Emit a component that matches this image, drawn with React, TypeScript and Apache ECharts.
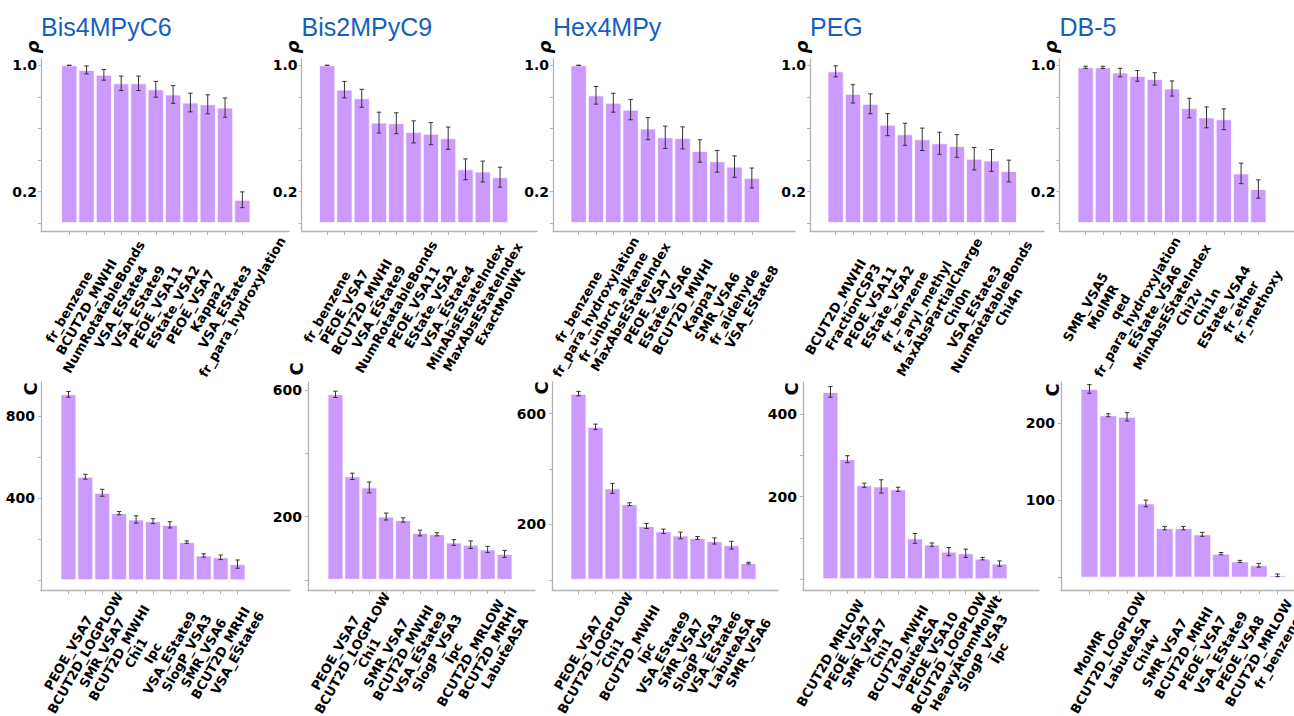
import React, { useEffect, useRef } from "react";
import * as echarts from "echarts";

// ---------- titles ----------
const titles = ["Bis4MPyC6", "Bis2MPyC9", "Hex4MPy", "PEG", "DB-5"];

// ---------- top row (rho) ----------
const rhoCats1 = ["fr_benzene", "BCUT2D_MWHI", "NumRotatableBonds", "VSA_EState4", "VSA_EState9", "PEOE_VSA11", "EState_VSA2", "PEOE_VSA7", "Kappa2", "VSA_EState3", "fr_para_hydroxylation"];
const rhoVals1 = [1.0, 0.971, 0.94, 0.886, 0.886, 0.848, 0.815, 0.764, 0.753, 0.732, 0.148];
const rhoErrs1 = [0, 0.025, 0.034, 0.046, 0.046, 0.05, 0.056, 0.059, 0.06, 0.061, 0.05];

const rhoCats2 = ["fr_benzene", "PEOE_VSA7", "BCUT2D_MWHI", "VSA_EState9", "NumRotatableBonds", "PEOE_VSA11", "EState_VSA2", "VSA_EState4", "MinAbsEStateIndex", "MaxAbsEStateIndex", "ExactMolWt"];
const rhoVals2 = [1.0, 0.846, 0.791, 0.637, 0.633, 0.578, 0.567, 0.538, 0.341, 0.327, 0.291];
const rhoErrs2 = [0, 0.052, 0.057, 0.066, 0.066, 0.07, 0.07, 0.071, 0.066, 0.066, 0.063];

const rhoCats3 = ["fr_benzene", "fr_para_hydroxylation", "fr_unbrch_alkane", "MaxAbsEStateIndex", "PEOE_VSA7", "EState_VSA6", "BCUT2D_MWHI", "Kappa1", "SMR_VSA6", "fr_aldehyde", "VSA_EState8"];
const rhoVals3 = [1.0, 0.81, 0.763, 0.719, 0.599, 0.544, 0.54, 0.457, 0.392, 0.358, 0.286];
const rhoErrs3 = [0, 0.056, 0.06, 0.064, 0.07, 0.071, 0.07, 0.071, 0.069, 0.068, 0.063];

const rhoCats4 = ["BCUT2D_MWHI", "FractionCSP3", "PEOE_VSA11", "EState_VSA2", "fr_benzene", "fr_aryl_methyl", "MaxAbsPartialCharge", "Chi0n", "VSA_EState3", "NumRotatableBonds", "Chi4n"];
const rhoVals4 = [0.962, 0.819, 0.756, 0.624, 0.563, 0.531, 0.506, 0.489, 0.408, 0.397, 0.33];
const rhoErrs4 = [0.035, 0.058, 0.063, 0.07, 0.07, 0.071, 0.07, 0.072, 0.071, 0.069, 0.069];

const rhoCats5 = ["SMR_VSA5", "MolMR", "qed", "fr_para_hydroxylation", "EState_VSA6", "MinAbsEStateIndex", "Chi2v", "Chi1n", "EState_VSA4", "fr_ether", "fr_methoxy"];
const rhoVals5 = [0.987, 0.987, 0.954, 0.933, 0.914, 0.853, 0.729, 0.67, 0.658, 0.315, 0.216];
const rhoErrs5 = [0.007, 0.007, 0.027, 0.034, 0.039, 0.048, 0.062, 0.066, 0.066, 0.065, 0.058];

const rhoTicks = [0, 0.2, 0.4, 0.6, 0.8, 1.0];
const rhoTickLabels = [0.2, 1.0];

// ---------- bottom row (C) ----------
const cCats1 = ["PEOE_VSA7", "BCUT2D_LOGPLOW", "SMR_VSA7", "BCUT2D_MWHI", "Chi1", "Ipc", "VSA_EState9", "SlogP_VSA3", "SMR_VSA6", "BCUT2D_MRHI", "VSA_EState6"];
const cVals1 = [905, 504, 426, 327, 296, 288, 270, 186, 121, 112, 79];
const cErrs1 = [14, 12, 17, 8, 18, 12, 15, 6, 8, 11, 20];

const cCats2 = ["PEOE_VSA7", "BCUT2D_LOGPLOW", "Chi1", "SMR_VSA7", "BCUT2D_MWHI", "VSA_EState9", "SlogP_VSA3", "Ipc", "BCUT2D_MRLOW", "BCUT2D_MRHI", "LabuteASA"];
const cVals2 = [586, 327, 292, 200, 189, 148, 144, 118, 111, 96, 82];
const cErrs2 = [10, 10, 17, 11, 7, 9, 5, 9, 12, 10, 11];

const cCats3 = ["PEOE_VSA7", "BCUT2D_LOGPLOW", "Chi1", "BCUT2D_MWHI", "Ipc", "VSA_EState9", "SMR_VSA7", "SlogP_VSA3", "VSA_EState6", "LabuteASA", "SMR_VSA6"];
const cVals3 = [672, 552, 330, 273, 194, 175, 160, 151, 140, 125, 60];
const cErrs3 = [8, 10, 18, 5, 9, 8, 12, 5, 11, 14, 3];

const cCats4 = ["BCUT2D_MRLOW", "PEOE_VSA7", "SMR_VSA7", "Chi1", "BCUT2D_MWHI", "LabuteASA", "PEOE_VSA10", "BCUT2D_LOGPLOW", "HeavyAtomMolWt", "SlogP_VSA3", "Ipc"];
const cVals4 = [454, 291, 228, 225, 218, 99, 84, 67, 63, 50, 38];
const cErrs4 = [13, 8.5, 5, 16, 5, 12, 4, 10, 10, 3, 6.5];

const cCats5 = ["MolMR", "BCUT2D_LOGPLOW", "LabuteASA", "Chi4v", "SMR_VSA7", "BCUT2D_MRHI", "PEOE_VSA7", "VSA_EState9", "PEOE_VSA8", "BCUT2D_MRLOW", "fr_benzene"];
const cVals5 = [244, 210, 208, 96, 64, 64, 56, 31, 21, 16, 3];
const cErrs5 = [5.6, 1.9, 5.4, 4.3, 2.2, 2.2, 2.6, 1.5, 1.3, 2.4, 1.7];

const cTicks1 = [0, 200, 400, 600, 800];
const cTickLabels1 = [400, 800];
const cTicks2 = [0, 200, 400, 600];
const cTickLabels2 = [200, 600];
const cTicks3 = [0, 200, 400, 600];
const cTickLabels3 = [200, 600];
const cTicks4 = [0, 100, 200, 300, 400];
const cTickLabels4 = [200, 400];
const cTicks5 = [0, 100, 200];
const cTickLabels5 = [100, 200];

// ---------- layout (pixels) ----------
// [axisLeft, axisRight, barsLeft, barsRight]
const topFrames = [
  [41, 289, 60.6, 251],
  [301.6, 537, 318.5, 508.7],
  [553, 795, 570, 760.5],
  [810, 1044, 827, 1017.5],
  [1059.5, 1306, 1077, 1267],
];
const botFrames = [
  [41, 290, 60, 246],
  [308, 535, 327, 513],
  [552, 778, 570, 757],
  [803, 1039, 822, 1008],
  [1061, 1306, 1080, 1287],
];
const topYRange = [-0.05, 1.04];
const botYRanges = [
  [-47, 965],
  [-32, 625],
  [-37, 714],
  [-26, 478],
  [-16, 253],
];
const botNamePos = [
  [30, 389],
  [296, 369],
  [541, 388],
  [791, 389],
  [1052, 390],
];

const TOP_GRID = { top: 59, height: 172 };
const BOT_GRID = { top: 382, height: 208 };
const AXIS_COLOR = "#b3b3b3";
const BAR_COLOR = "#cc99fd";
const ERR_COLOR = "#333333";
const TITLE_COLOR = "#1660bd";
const FONT = "DejaVu Sans";

type Panel = {
  cats: string[];
  vals: number[];
  errs: number[];
  row: number;
  ticks: number[];
  tickLabels: number[];
  yRange: number[];
  frame: number[];
};

const panels: Panel[] = [
  { cats: rhoCats1, vals: rhoVals1, errs: rhoErrs1, row: 0, ticks: rhoTicks, tickLabels: rhoTickLabels, yRange: topYRange, frame: topFrames[0] },
  { cats: rhoCats2, vals: rhoVals2, errs: rhoErrs2, row: 0, ticks: rhoTicks, tickLabels: rhoTickLabels, yRange: topYRange, frame: topFrames[1] },
  { cats: rhoCats3, vals: rhoVals3, errs: rhoErrs3, row: 0, ticks: rhoTicks, tickLabels: rhoTickLabels, yRange: topYRange, frame: topFrames[2] },
  { cats: rhoCats4, vals: rhoVals4, errs: rhoErrs4, row: 0, ticks: rhoTicks, tickLabels: rhoTickLabels, yRange: topYRange, frame: topFrames[3] },
  { cats: rhoCats5, vals: rhoVals5, errs: rhoErrs5, row: 0, ticks: rhoTicks, tickLabels: rhoTickLabels, yRange: topYRange, frame: topFrames[4] },
  { cats: cCats1, vals: cVals1, errs: cErrs1, row: 1, ticks: cTicks1, tickLabels: cTickLabels1, yRange: botYRanges[0], frame: botFrames[0] },
  { cats: cCats2, vals: cVals2, errs: cErrs2, row: 1, ticks: cTicks2, tickLabels: cTickLabels2, yRange: botYRanges[1], frame: botFrames[1] },
  { cats: cCats3, vals: cVals3, errs: cErrs3, row: 1, ticks: cTicks3, tickLabels: cTickLabels3, yRange: botYRanges[2], frame: botFrames[2] },
  { cats: cCats4, vals: cVals4, errs: cErrs4, row: 1, ticks: cTicks4, tickLabels: cTickLabels4, yRange: botYRanges[3], frame: botFrames[3] },
  { cats: cCats5, vals: cVals5, errs: cErrs5, row: 1, ticks: cTicks5, tickLabels: cTickLabels5, yRange: botYRanges[4], frame: botFrames[4] },
];

function buildOption() {
  const grid: any[] = [];
  const xAxis: any[] = [];
  const yAxis: any[] = [];
  const series: any[] = [];
  const graphic: any[] = [];

  panels.forEach((p, k) => {
    const [aL, aR, bL, bR] = p.frame;
    const n = p.cats.length;
    const band = (bR - bL) / n;
    const xMin = -0.5 - (bL - aL) / band;
    const xMax = n - 0.5 + (aR - bR) / band;
    const g = p.row === 0 ? TOP_GRID : BOT_GRID;
    const idx = p.cats.map((_, i) => i);

    grid.push({
      left: aL,
      width: aR - aL,
      top: g.top,
      height: g.height,
      containLabel: false,
      outerBoundsMode: "none",
    });

    xAxis.push({
      type: "value",
      gridIndex: k,
      min: xMin,
      max: xMax,
      splitLine: { show: false },
      axisLine: { show: true, onZero: false, lineStyle: { color: AXIS_COLOR, width: 1.3 } },
      axisTick: { show: true, customValues: idx, length: 4, lineStyle: { color: AXIS_COLOR, width: 1 } },
      axisLabel: {
        show: true,
        customValues: idx,
        formatter: (v: number) => p.cats[Math.round(v)] ?? "",
        rotate: 60,
        align: "center",
        verticalAlign: "middle",
        margin: p.row === 0 ? 76 : 63,
        fontFamily: FONT,
        fontWeight: "bold",
        fontSize: 13,
        color: "#000",
      },
    });

    yAxis.push({
      type: "value",
      gridIndex: k,
      min: p.yRange[0],
      max: p.yRange[1],
      splitLine: { show: false },
      axisLine: { show: true, onZero: false, lineStyle: { color: AXIS_COLOR, width: 1.3 } },
      axisTick: { show: true, customValues: p.ticks, length: 3, lineStyle: { color: AXIS_COLOR, width: 1 } },
      axisLabel: {
        show: true,
        customValues: p.tickLabels,
        formatter: (v: number) => (p.row === 0 ? Number(v).toFixed(1) : String(Math.round(v))),
        margin: p.row === 0 ? 4 : 6,
        fontFamily: FONT,
        fontWeight: "bold",
        fontSize: 14,
        color: "#000",
      },
    });

    series.push({
      type: "bar",
      xAxisIndex: k,
      yAxisIndex: k,
      data: p.vals.map((v, i) => [i, v]),
      barWidth: band - 1,
      itemStyle: { color: BAR_COLOR, borderColor: "rgba(255,255,255,0.75)", borderWidth: 1 },
      emphasis: { disabled: true },
      z: 2,
    });

    series.push({
      type: "custom",
      xAxisIndex: k,
      yAxisIndex: k,
      encode: { x: 0, y: 1 },
      data: p.vals.map((v, i) => [i, v, p.errs[i]]),
      clip: false,
      z: 5,
      renderItem: (params: any, api: any) => {
        const i = api.value(0);
        const v = api.value(1);
        const e = api.value(2);
        const t = api.coord([i, v + e]);
        const b = api.coord([i, v - e]);
        const cw = 2.2;
        const st = { stroke: ERR_COLOR, lineWidth: 1 };
        return {
          type: "group",
          children: [
            { type: "line", shape: { x1: t[0], y1: t[1], x2: b[0], y2: b[1] }, style: st },
            { type: "line", shape: { x1: t[0] - cw, y1: t[1], x2: t[0] + cw, y2: t[1] }, style: st },
            { type: "line", shape: { x1: b[0] - cw, y1: b[1], x2: b[0] + cw, y2: b[1] }, style: st },
          ],
        };
      },
    });
  });

  titles.forEach((t, k) => {
    graphic.push({
      type: "text",
      x: topFrames[k][0],
      y: 27,
      style: { text: t, font: '25px "Liberation Sans"', fill: TITLE_COLOR, align: "left", verticalAlign: "middle" },
    });
    graphic.push({
      type: "text",
      x: topFrames[k][0] - 9,
      y: 47,
      rotation: Math.PI / 2,
      style: { text: "ρ", font: 'italic bold 18px "DejaVu Sans"', fill: "#000", align: "center", verticalAlign: "middle" },
    });
    graphic.push({
      type: "text",
      x: botNamePos[k][0],
      y: botNamePos[k][1],
      rotation: Math.PI / 2,
      style: { text: "C", font: 'bold 18px "DejaVu Sans"', fill: "#000", align: "center", verticalAlign: "middle" },
    });
  });

  return {
    animation: false,
    backgroundColor: "#ffffff",
    grid,
    xAxis,
    yAxis,
    series,
    graphic,
  };
}

export default function App() {
  const ref = useRef<HTMLDivElement>(null);
  useEffect(() => {
    document.body.style.margin = "0";
    if (!ref.current) return;
    const chart = echarts.init(ref.current, null, { renderer: "svg" });
    chart.setOption(buildOption() as any);
    return () => chart.dispose();
  }, []);
  return <div ref={ref} style={{ width: 1294, height: 716 }} />;
}
